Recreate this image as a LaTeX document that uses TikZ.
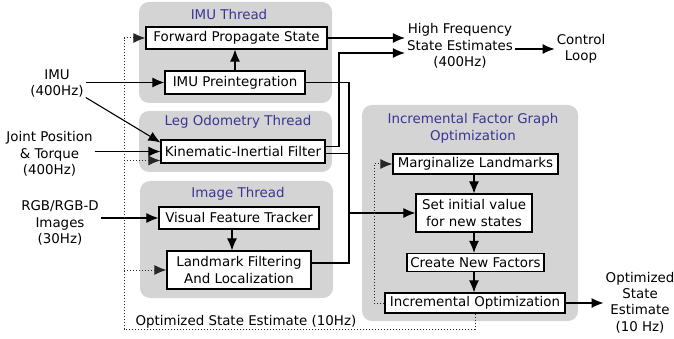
\documentclass[tikz,border=0pt]{standalone}
\usepackage{fontspec}
\setmainfont{DejaVu Sans}
\usetikzlibrary{arrows.meta,calc}
\definecolor{panelgray}{RGB}{212,212,212}
\definecolor{titleblue}{RGB}{58,52,150}
\begin{document}
\begin{tikzpicture}[x=1pt,y=-1pt,
  font=\fontsize{13.4}{16.4}\selectfont,
  panel/.style={fill=panelgray, rounded corners=10pt},
  box/.style={draw, line width=1.2pt, fill=white, inner sep=0pt, align=center},
  lbl/.style={align=center, inner sep=2pt},
  ttl/.style={text=titleblue, align=center, inner sep=0pt},
  tip/.style={-{Latex[length=12pt,width=10pt]}},
  arr/.style={tip, line width=1.1pt},
  dots/.style={dotted, line width=1pt, black!85}]
\useasboundingbox (0,0) rectangle (674,339);

% panels
\path[panel] (139,2) rectangle (332,103);
\path[panel] (139,111) rectangle (332,172);
\path[panel] (140,181) rectangle (333,298);
\path[panel] (362,105) rectangle (578,321);

% titles
\node[ttl] (t1) at (229,15) {IMU Thread};
\node[ttl] (t2) at (238,122) {Leg Odometry Thread};
\node[ttl] (t3) at (238,194) {Image Thread};
\node[ttl] (t4) at (473,128.5) {Incremental Factor Graph\\Optimization};

% boxes
\node[box, minimum width=181pt, minimum height=22pt] (fps) at (236.5,38) {Forward Propagate State};
\node[box, minimum width=140pt, minimum height=23pt] (imup) at (235,82.5) {IMU Preintegration};
\node[box, minimum width=164pt, minimum height=23pt] (kif) at (243,151.5) {Kinematic-Inertial Filter};
\node[box, minimum width=160pt, minimum height=22pt] (vft) at (239,218) {Visual Feature Tracker};
\node[box, minimum width=144pt, minimum height=38pt] (lfl) at (239,270) {Landmark Filtering\\And Localization};
\node[box, minimum width=165pt, minimum height=20pt] (marg) at (475.5,164) {Marginalize Landmarks};
\node[box, minimum width=116pt, minimum height=38pt] (setv) at (474,213) {Set initial value\\for new states};
\node[box, minimum width=137pt, minimum height=18pt] (cnf) at (475.5,262.5) {Create New Factors};
\node[box, minimum width=180pt, minimum height=20pt] (incopt) at (475,303) {Incremental Optimization};

% free labels
\node[lbl] (imu) at (57,83.5) {IMU\\(400Hz)};
\node[lbl] (joint) at (49.5,154) {Joint Position\\\& Torque\\(400Hz)};
\node[lbl] (rgb) at (60,223) {RGB/RGB-D\\Images\\(30Hz)};
\node[lbl] (hf) at (460,46) {High Frequency\\State Estimates\\(400Hz)};
\node[lbl] (cl) at (581,49) {Control\\Loop};
\node[lbl] (ose) at (640,302.5) {Optimized\\State\\Estimate\\(10 Hz)};
\node[lbl] (osl) at (246,322) {Optimized State Estimate (10Hz)};

% coordinates
\coordinate (dlb) at (124,329);
\coordinate (dlt) at (124,38);
\coordinate (bt) at (349,82.5);
\coordinate (bb) at (349,263);
\coordinate (up) at (339,53);

% inputs
\draw[arr] (imu.east |- imup.west) -- (imup.west);
\draw[arr] ([yshift=-14pt]imu.east) -- ([yshift=9pt]kif.west);
\draw[arr] (joint.east |- kif.west) -- (kif.west);
\draw[arr] (rgb.east |- vft.west) -- (vft.west);

% imu thread
\draw[arr] (imup.north) -- (imup.north |- fps.south);
\draw[arr] (fps.east) -- (fps.east -| hf.west);
\draw[arr] ([yshift=5pt]kif.east) -| (up) -- (up -| hf.west);
\draw[arr] (hf.east |- cl.west) -- (cl.west);

% image thread
\draw[arr] ([xshift=-7pt]vft.south) -- ([xshift=-7pt]vft.south |- lfl.north);

% bus to factor graph
\draw[line width=1.1pt] (imup.east) -- (bt) -- (bb) -- ([yshift=7pt]lfl.east);
\draw[line width=1.1pt] ([yshift=-2pt]kif.east) -- ([yshift=-2pt]kif.east -| bt);
\draw[arr] (bt |- setv.west) -- (setv.west);

% factor graph chain
\draw[arr] (marg.south -| setv.north) -- (setv.north);
\draw[arr] (setv.south) -- (setv.south |- cnf.north);
\draw[arr] (setv.south |- cnf.south) -- (setv.south |- incopt.north);
\draw[arr] (incopt.east) -- (ose.west |- incopt.east);

% dotted feedback
\draw[dots] (incopt.south) |- (dlb) -- (dlt);
\draw[dots, tip] (dlt) -- (fps.west);
\draw[dots, tip] ([yshift=-9pt]kif.west -| dlt) -- ([yshift=-9pt]kif.west);
\draw[dots, tip] (lfl.west -| dlt) -- (lfl.west);
\draw[dots, tip] (incopt.west) -- ++(-10,0) |- (marg.west);
\end{tikzpicture}
\end{document}
